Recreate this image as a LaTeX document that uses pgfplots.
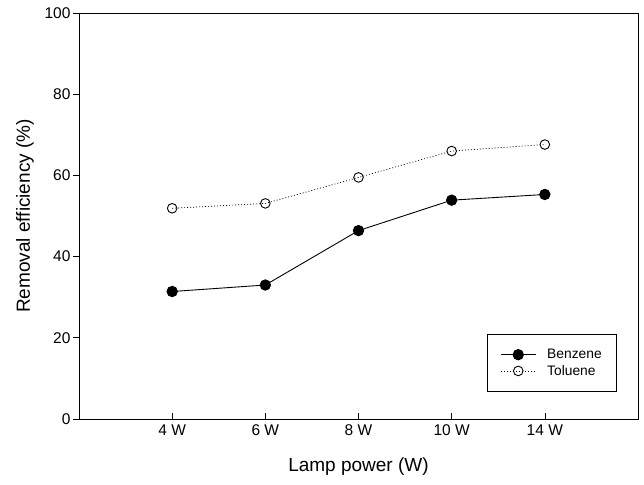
\documentclass[border=0pt]{standalone}
\usepackage{fontspec}
\setmainfont{Liberation Sans}
\usepackage{pgfplots}
\pgfplotsset{compat=1.18}
\begin{document}
\begin{tikzpicture}
\useasboundingbox (-79pt,-65pt) rectangle (565pt,419pt);
\begin{axis}[
  at={(0pt,0pt)}, anchor=south west,
  scale only axis, width=559pt, height=406pt,
  xmin=-1, xmax=5, ymin=0, ymax=100,
  xtick={0,1,2,3,4}, xticklabels={4 W,6 W,8 W,10 W,14 W},
  ytick={0,20,40,60,80,100},
  xtick pos=bottom, ytick pos=left,
  tick align=inside,
  major tick length=6pt,
  y tick style={xshift=-6pt},
  tick style={black, line width=0.6pt},
  axis line style={line width=0.8pt},
  /pgf/number format/assume math mode=true,
  ticklabel style={font=\fontsize{15.5}{17}\selectfont},
  yticklabel style={xshift=-5pt},
  xticklabel style={yshift=-2pt},
  xlabel={Lamp power (W)},
  ylabel={Removal efficiency (\%)},
  every axis x label/.style={at={(axis description cs:0.5,-0.116)}, anchor=center, font=\fontsize{19}{21}\selectfont},
  every axis y label/.style={at={(axis description cs:-0.0966,0.5)}, anchor=center, rotate=90, font=\fontsize{19}{21}\selectfont},
  legend style={at={(rel axis cs:0.9624,0.0665)}, anchor=south east,
    font=\fontsize{13.8}{16}\selectfont, draw=black, line width=0.6pt,
    inner xsep=13pt, inner ysep=13pt, row sep=1pt, column sep=9pt, cells={anchor=west}},
  legend image code/.code={\draw[mark repeat=2,mark phase=2,#1] plot coordinates {(0pt,0pt) (17.5pt,0pt) (35pt,0pt)};},
]
\addplot[black, line width=0.9pt, mark=*, mark size=5.2pt, mark options={solid, fill=black}]
  coordinates {(0,31.4) (1,33.0) (2,46.4) (3,53.9) (4,55.3)};
\addlegendentry{Benzene}
\addplot[black, line width=0.7pt, dash pattern=on 1pt off 2pt, mark=o, mark size=4.8pt, mark options={solid, fill=white, line width=0.9pt}]
  coordinates {(0,51.9) (1,53.1) (2,59.5) (3,66.0) (4,67.6)};
\addlegendentry{Toluene}
\end{axis}
\end{tikzpicture}
\end{document}
